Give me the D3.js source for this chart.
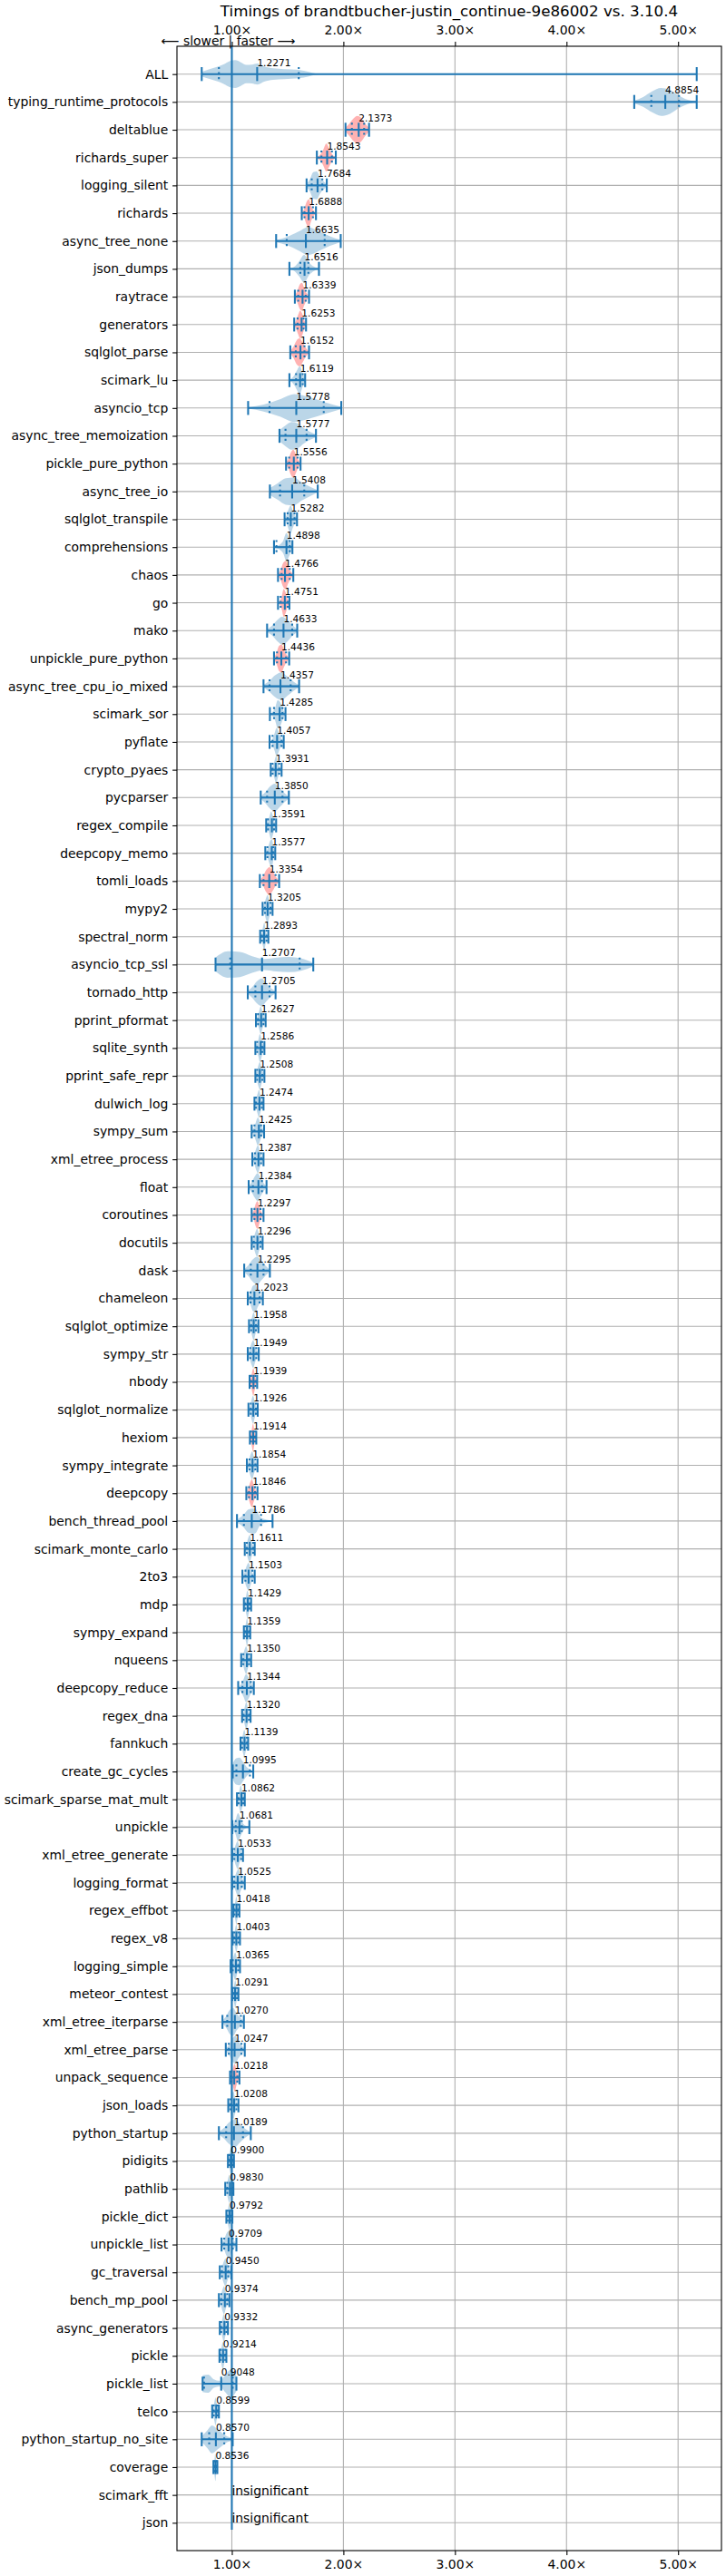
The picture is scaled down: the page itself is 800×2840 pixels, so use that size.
<!DOCTYPE html>
<html><head><meta charset="utf-8">
<script src="https://cdn.jsdelivr.net/npm/d3@7"></script>
<style>body{margin:0;background:#fff} svg{display:block} text{font-family:"DejaVu Sans",sans-serif}</style>
</head><body><svg id="c" width="800" height="2840"></svg>
<script>
const title = "Timings of brandtbucher-justin_continue-9e86002 vs. 3.10.4";
const names = ["ALL","typing_runtime_protocols","deltablue","richards_super","logging_silent","richards","async_tree_none","json_dumps","raytrace","generators","sqlglot_parse","scimark_lu","asyncio_tcp","async_tree_memoization","pickle_pure_python","async_tree_io","sqlglot_transpile","comprehensions","chaos","go","mako","unpickle_pure_python","async_tree_cpu_io_mixed","scimark_sor","pyflate","crypto_pyaes","pycparser","regex_compile","deepcopy_memo","tomli_loads","mypy2","spectral_norm","asyncio_tcp_ssl","tornado_http","pprint_pformat","sqlite_synth","pprint_safe_repr","dulwich_log","sympy_sum","xml_etree_process","float","coroutines","docutils","dask","chameleon","sqlglot_optimize","sympy_str","nbody","sqlglot_normalize","hexiom","sympy_integrate","deepcopy","bench_thread_pool","scimark_monte_carlo","2to3","mdp","sympy_expand","nqueens","deepcopy_reduce","regex_dna","fannkuch","create_gc_cycles","scimark_sparse_mat_mult","unpickle","xml_etree_generate","logging_format","regex_effbot","regex_v8","logging_simple","meteor_contest","xml_etree_iterparse","xml_etree_parse","unpack_sequence","json_loads","python_startup","pidigits","pathlib","pickle_dict","unpickle_list","gc_traversal","bench_mp_pool","async_generators","pickle","pickle_list","telco","python_startup_no_site","coverage","scimark_fft","json"];
const mins = [0.730,4.607,2.019,1.762,1.670,1.627,1.397,1.516,1.565,1.559,1.524,1.516,1.146,1.427,1.486,1.341,1.473,1.378,1.414,1.414,1.316,1.378,1.284,1.341,1.338,1.349,1.259,1.308,1.300,1.251,1.276,1.254,0.854,1.143,1.216,1.211,1.211,1.203,1.178,1.184,1.151,1.178,1.178,1.111,1.143,1.154,1.143,1.159,1.149,1.162,1.135,1.130,1.046,1.116,1.095,1.108,1.108,1.084,1.057,1.092,1.078,1.008,1.046,1.005,1.003,1.003,1.014,1.008,0.989,1.003,0.916,0.946,0.984,0.968,0.884,0.965,0.941,0.951,0.908,0.892,0.884,0.892,0.889,0.738,0.824,0.730,0.835,null,null];
const q1s = [0.884,4.760,2.076,1.803,1.716,1.651,1.492,1.614,1.595,1.589,1.573,1.576,1.338,1.481,1.514,1.432,1.500,1.400,1.446,1.438,1.378,1.405,1.338,1.378,1.365,1.365,1.316,1.324,1.319,1.284,1.297,1.270,0.986,1.211,1.235,1.227,1.227,1.216,1.203,1.208,1.189,1.203,1.197,1.170,1.168,1.173,1.165,1.173,1.170,1.173,1.159,1.154,1.108,1.135,1.122,1.122,1.119,1.103,1.095,1.105,1.092,1.041,1.062,1.035,1.022,1.022,1.024,1.022,1.008,1.014,0.959,0.973,0.997,0.986,0.949,0.976,0.959,0.962,0.932,0.911,0.905,0.905,0.900,0.751,0.838,0.797,0.843,null,null];
const medians = [1.2271,4.8854,2.1373,1.8543,1.7684,1.6888,1.6635,1.6516,1.6339,1.6253,1.6152,1.6119,1.5778,1.5777,1.5556,1.5408,1.5282,1.4898,1.4766,1.4751,1.4633,1.4436,1.4357,1.4285,1.4057,1.3931,1.3850,1.3591,1.3577,1.3354,1.3205,1.2893,1.2707,1.2705,1.2627,1.2586,1.2508,1.2474,1.2425,1.2387,1.2384,1.2297,1.2296,1.2295,1.2023,1.1958,1.1949,1.1939,1.1926,1.1914,1.1854,1.1846,1.1786,1.1611,1.1503,1.1429,1.1359,1.1350,1.1344,1.1320,1.1139,1.0995,1.0862,1.0681,1.0533,1.0525,1.0418,1.0403,1.0365,1.0291,1.0270,1.0247,1.0218,1.0208,1.0189,0.9900,0.9830,0.9792,0.9709,0.9450,0.9374,0.9332,0.9214,0.9048,0.8599,0.8570,0.8536,null,null];
const q3s = [1.600,5.008,2.186,1.897,1.811,1.727,1.832,1.686,1.662,1.643,1.651,1.635,1.824,1.670,1.589,1.649,1.562,1.519,1.519,1.500,1.541,1.486,1.527,1.454,1.446,1.424,1.454,1.378,1.370,1.392,1.346,1.311,1.608,1.338,1.284,1.273,1.273,1.270,1.262,1.262,1.270,1.257,1.257,1.284,1.249,1.216,1.219,1.211,1.216,1.208,1.211,1.208,1.262,1.192,1.184,1.159,1.154,1.154,1.170,1.154,1.135,1.162,1.103,1.089,1.084,1.089,1.057,1.059,1.057,1.046,1.081,1.086,1.049,1.041,1.100,1.008,1.003,0.995,1.008,0.968,0.959,0.951,0.941,1.008,0.873,0.932,0.864,null,null];
const maxs = [5.167,5.167,2.230,1.932,1.851,1.754,1.976,1.781,1.692,1.665,1.692,1.657,1.981,1.754,1.616,1.770,1.584,1.543,1.551,1.516,1.586,1.514,1.603,1.481,1.465,1.446,1.511,1.397,1.389,1.424,1.365,1.327,1.730,1.392,1.303,1.292,1.292,1.284,1.289,1.284,1.311,1.284,1.276,1.341,1.278,1.238,1.241,1.227,1.232,1.219,1.230,1.230,1.365,1.205,1.205,1.173,1.165,1.173,1.197,1.168,1.146,1.192,1.116,1.157,1.100,1.116,1.068,1.073,1.073,1.059,1.108,1.116,1.068,1.059,1.170,1.019,1.014,1.005,1.041,0.995,0.978,0.965,0.951,1.041,0.884,1.008,0.870,null,null];
const redBenchmarks = ["deltablue","richards_super","richards","raytrace","generators","sqlglot_parse","pickle_pure_python","chaos","go","unpickle_pure_python","tomli_loads","coroutines","nbody","hexiom","deepcopy","unpack_sequence"];
// relative violin widths, evenly spaced from min to max
const profiles = [null,
[0.1,0.35,0.75,1.0,0.85,0.45,0.15,0.03],[0.15,0.45,0.8,1.0,0.85,0.45,0.15],[0.05,0.2,0.55,1.0,0.6,0.2,0.05],[0.1,0.45,0.95,1.0,0.6,0.3,0.1],
[0.05,0.3,0.8,1.0,0.55,0.2,0.05],[0.08,0.3,0.65,1.0,0.7,0.35,0.08],[0.04,0.15,0.55,1.0,0.45,0.15,0.04],[0.1,0.4,0.85,1.0,0.6,0.25,0.05],
[0.05,0.3,0.7,1.0,0.8,0.35,0.05],[0.1,0.4,0.85,1.0,0.7,0.3,0.05],[0.05,0.15,0.4,0.75,1.0,0.5,0.1],[0.05,0.25,0.6,1.0,0.75,0.4,0.08],
[0.4,0.75,1.0,0.9,0.55,0.3,0.1],[0.1,0.35,0.8,1.0,0.7,0.3,0.05],[0.25,0.6,0.95,1.0,0.65,0.35,0.08],[0.05,0.3,0.75,1.0,0.6,0.3,0.05],
[0.05,0.1,0.2,0.45,1.0,0.6,0.1],[0.05,0.35,0.85,1.0,0.6,0.25,0.05],[0.03,0.15,0.5,1.0,0.75,0.3,0.05],[0.1,0.35,0.75,1.0,0.8,0.4,0.1],
[0.05,0.4,0.9,1.0,0.6,0.25,0.05],[0.1,0.4,0.8,1.0,0.7,0.35,0.08],[0.03,0.15,0.45,1.0,0.85,0.35,0.05],[0.03,0.15,0.55,1.0,0.65,0.25,0.05],
[0.03,0.2,0.6,1.0,0.55,0.2,0.05],[0.1,0.4,0.8,1.0,0.7,0.35,0.08],[0.05,0.25,0.65,1.0,0.7,0.3,0.05],[0.05,0.2,0.55,0.9,1.0,0.4,0.05],
[0.08,0.35,0.8,1.0,0.7,0.3,0.05],[0.05,0.3,0.75,1.0,0.6,0.25,0.05],[0.03,0.2,0.65,1.0,0.5,0.15,0.03],[0.5,0.95,0.9,0.6,0.4,0.5,0.55,0.45,0.12],
[0.1,0.4,0.8,1.0,0.65,0.3,0.08],[0.05,0.25,0.65,1.0,0.6,0.25,0.05],[0.05,0.25,0.6,1.0,0.7,0.3,0.05],[0.05,0.3,0.75,1.0,0.6,0.25,0.05],
[0.05,0.3,0.7,1.0,0.6,0.25,0.05],[0.05,0.25,0.65,1.0,0.7,0.3,0.05],[0.05,0.3,0.75,1.0,0.6,0.25,0.05],[0.08,0.35,0.75,1.0,0.65,0.3,0.05],
[0.05,0.3,0.8,1.0,0.55,0.2,0.04],[0.05,0.3,0.75,1.0,0.6,0.25,0.05],[0.1,0.4,0.8,1.0,0.7,0.35,0.08],[0.08,0.4,0.9,1.0,0.6,0.3,0.05],
[0.05,0.25,0.7,1.0,0.6,0.25,0.05],[0.05,0.3,0.75,1.0,0.6,0.25,0.05],[0.05,0.25,0.7,1.0,0.6,0.25,0.05],[0.05,0.25,0.7,1.0,0.6,0.25,0.05],
[0.05,0.25,0.7,1.0,0.6,0.25,0.05],[0.05,0.3,0.75,1.0,0.6,0.25,0.05],[0.05,0.3,0.75,1.0,0.6,0.25,0.05],[0.1,0.4,0.85,0.9,0.25,0.1,0.04],
[0.05,0.3,0.75,1.0,0.6,0.25,0.05],[0.05,0.3,0.75,1.0,0.6,0.25,0.05],[0.05,0.25,0.7,1.0,0.6,0.25,0.05],[0.05,0.25,0.7,1.0,0.6,0.25,0.05],
[0.05,0.3,0.75,1.0,0.6,0.25,0.05],[0.05,0.25,0.6,1.0,0.75,0.35,0.05],[0.05,0.25,0.7,1.0,0.6,0.25,0.05],[0.05,0.25,0.7,1.0,0.6,0.25,0.05],
[0.55,0.95,1.0,0.7,0.35,0.15,0.05],[0.05,0.25,0.7,1.0,0.6,0.25,0.05],[0.1,0.45,1.0,0.6,0.2,0.08,0.02],[0.05,0.3,0.75,1.0,0.6,0.25,0.05],
[0.05,0.3,0.75,1.0,0.6,0.25,0.05],[0.05,0.25,0.7,1.0,0.6,0.25,0.05],[0.05,0.25,0.7,1.0,0.6,0.25,0.05],[0.05,0.3,0.75,1.0,0.6,0.25,0.05],
[0.05,0.25,0.7,1.0,0.6,0.25,0.05],[0.1,0.4,0.85,1.0,0.6,0.3,0.08],[0.1,0.35,0.8,1.0,0.6,0.3,0.08],[0.05,0.25,0.7,1.0,0.6,0.25,0.05],
[0.05,0.3,0.75,1.0,0.6,0.25,0.05],[0.1,0.4,0.8,1.0,0.65,0.3,0.08],[0.05,0.25,0.7,1.0,0.6,0.25,0.05],[0.05,0.25,0.7,1.0,0.6,0.25,0.05],
[0.05,0.25,0.7,1.0,0.6,0.25,0.05],[0.08,0.35,0.8,1.0,0.6,0.3,0.05],[0.05,0.3,0.75,1.0,0.6,0.25,0.05],[0.05,0.3,0.75,1.0,0.6,0.25,0.05],
[0.05,0.25,0.7,1.0,0.6,0.25,0.05],[0.05,0.25,0.7,1.0,0.6,0.25,0.05],[0.6,0.65,0.3,0.2,0.6,1.0,0.55],[0.05,0.25,0.7,1.0,0.6,0.25,0.05],
[0.2,0.6,1.0,0.75,0.45,0.2,0.1],[0.05,0.25,0.7,1.0,0.6,0.25,0.05],null,null];
const allProfileX = [0.73,0.80,0.88,0.93,0.98,1.03,1.08,1.13,1.18,1.23,1.29,1.37,1.47,1.60,1.69,1.75,1.82,5.167];
const allProfileW = [0.16,0.35,0.55,0.72,0.93,1.0,0.85,0.66,0.68,0.76,0.55,0.42,0.36,0.3,0.16,0.05,0,0];
const xTicks = [1,2,3,4,5];
const insignificantLabel = "insignificant";
const directionLabel = "\u27F5 slower | faster \u27F6";

const svg = d3.select("#c");
const M = {left:195, right:795, top:51, bottom:2812};
const C0 = "#1f77b4", LW = 2.08;
const allVals = mins.concat(maxs).filter(v => v != null);
const lo = d3.min(allVals), hi = d3.max(allVals), pad = (hi - lo) * 0.05;
const x = d3.scaleLinear().domain([lo - pad, hi + pad]).range([M.left, M.right]);
const y = d3.scaleLinear().domain([0, names.length + 1]).range([M.top, M.bottom]);
const rowH = y(1) - y(0), half = rowH * 0.5, cap = rowH * 0.25;
const fmtTick = v => d3.format(".2f")(v) + "\u00D7";

svg.append("rect").attr("width",800).attr("height",2840).attr("fill","#fff");

// violin bodies
const area = d3.area().x(d => x(d[0])).y0(d => d[2] - d[1]*half).y1(d => d[2] + d[1]*half).curve(d3.curveMonotoneX);
const bodies = svg.append("g");
names.forEach((n, i) => {
  if (mins[i] == null) return;
  const cy = y(i + 1);
  let pts;
  if (i === 0) pts = allProfileX.map((v, k) => [v, allProfileW[k], cy]);
  else {
    const p = profiles[i];
    pts = p.map((w, k) => [mins[i] + k * (maxs[i] - mins[i]) / (p.length - 1), w, cy]);
  }
  bodies.append("path").attr("d", area(pts))
    .attr("fill", redBenchmarks.includes(n) ? "red" : C0).attr("fill-opacity", 0.3);
});

// grid
const grid = svg.append("g").attr("stroke","#b0b0b0").attr("stroke-width",1.1);
xTicks.forEach(t => grid.append("line").attr("x1",x(t)).attr("x2",x(t)).attr("y1",M.top).attr("y2",M.bottom));
names.forEach((n,i) => grid.append("line").attr("x1",M.left).attr("x2",M.right).attr("y1",y(i+1)).attr("y2",y(i+1)));

// reference line at 1.0 (ends just below the last row)
svg.append("line").attr("x1",x(1)).attr("x2",x(1)).attr("y1",M.top).attr("y2",y(names.length + 0.25)).attr("stroke",C0).attr("stroke-width",LW);

// violin lines
const lines = svg.append("g").attr("stroke",C0).attr("stroke-width",LW);
names.forEach((n, i) => {
  if (mins[i] == null) return;
  const cy = y(i + 1);
  lines.append("line").attr("x1",x(mins[i])).attr("x2",x(maxs[i])).attr("y1",cy).attr("y2",cy);
  [mins[i], maxs[i], medians[i]].forEach(v =>
    lines.append("line").attr("x1",x(v)).attr("x2",x(v)).attr("y1",cy-cap).attr("y2",cy+cap));
  [q1s[i], q3s[i]].forEach(v =>
    lines.append("line").attr("x1",x(v)).attr("x2",x(v)).attr("y1",cy-cap).attr("y2",cy+cap)
      .attr("stroke-dasharray","2.08,3.44"));
});

// value labels
const labels = svg.append("g").attr("font-size","10.6px").attr("fill","#000");
names.forEach((n, i) => {
  const cy = y(i + 1);
  if (medians[i] == null) {
    svg.append("text").attr("x", x(1)).attr("y", cy).attr("font-size","13.9px").text(insignificantLabel);
  } else {
    labels.append("text").attr("x", x(medians[i])).attr("y", cy - 9).text(d3.format(".4f")(medians[i]));
  }
});

// axes
const styleAxis = g => {
  g.select(".domain").remove();
  g.selectAll(".tick line").attr("stroke","#000").attr("stroke-width",1.1);
  g.selectAll(".tick text").attr("font-family","DejaVu Sans").attr("font-size","13.9px").attr("fill","#000");
};
svg.append("g").attr("transform",`translate(0,${M.top})`)
  .call(d3.axisTop(x).tickValues(xTicks).tickFormat(fmtTick).tickSize(4.9).tickPadding(4.9)).call(styleAxis)
  .call(g => g.selectAll(".tick text").attr("y", -13).attr("dy", "0"));
svg.append("g").attr("transform",`translate(0,${M.bottom})`)
  .call(d3.axisBottom(x).tickValues(xTicks).tickFormat(fmtTick).tickSize(4.9).tickPadding(4.9)).call(styleAxis);
svg.append("g").attr("transform",`translate(${M.left},0)`)
  .call(d3.axisLeft(y).tickValues(d3.range(1, names.length + 1)).tickFormat(d => names[d-1]).tickSize(4.9).tickPadding(4.9)).call(styleAxis);

svg.append("rect").attr("x",M.left).attr("y",M.top).attr("width",M.right-M.left).attr("height",M.bottom-M.top)
  .attr("fill","none").attr("stroke","#000").attr("stroke-width",1.1);

svg.append("text").attr("x",(M.left+M.right)/2).attr("y",18).attr("text-anchor","middle").attr("font-size","16.7px").text(title);
svg.append("text").attr("x",x(1)-4).attr("y",M.top-1).attr("text-anchor","middle").attr("font-size","13.9px").text(directionLabel);
</script></body></html>
